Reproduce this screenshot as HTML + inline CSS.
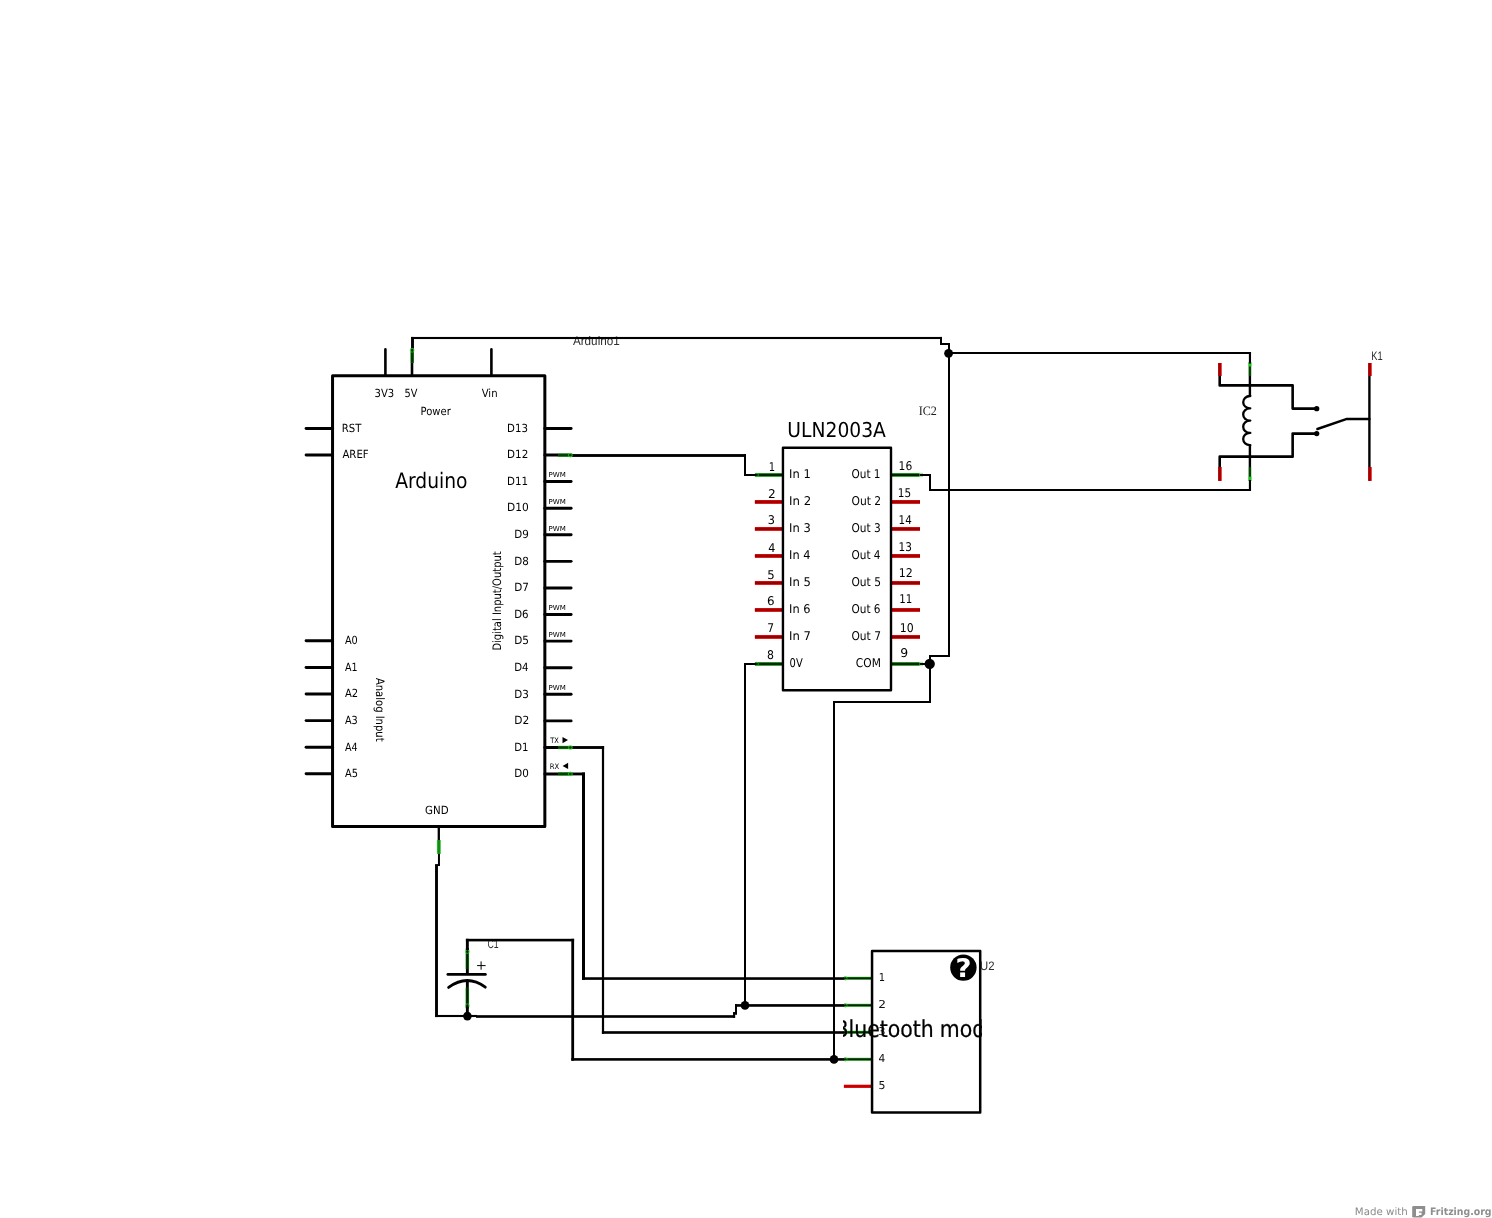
<!DOCTYPE html>
<html lang="en"><head><meta charset="utf-8"><title>Fritzing schematic</title>
<style>
html,body{margin:0;padding:0;background:#fff;width:1492px;height:1218px;overflow:hidden}
svg{display:block;position:absolute;left:0;top:0;will-change:transform}
text{white-space:pre;text-rendering:geometricPrecision}
</style></head><body>
<svg width="1492" height="1218" viewBox="0 0 1492 1218">
<text transform="matrix(1.1710 0 0 1.2500 572.90 345.00)" font-size="10" font-family='"Liberation Sans","DejaVu Sans",sans-serif' fill="#2e2e2e">Arduino1</text>
<text transform="matrix(0.8733 0 0 1.2209 487.39 948.00)" font-size="10" font-family='"Liberation Sans","DejaVu Sans",sans-serif' fill="#2e2e2e">C1</text>
<line x1="385.40" y1="349.40" x2="385.40" y2="375.80" stroke="#000" stroke-width="2.6" stroke-linecap="round"/>
<line x1="412.00" y1="349.40" x2="412.00" y2="375.80" stroke="#000" stroke-width="2.6" stroke-linecap="round"/>
<line x1="491.40" y1="349.40" x2="491.40" y2="375.80" stroke="#000" stroke-width="2.6" stroke-linecap="round"/>
<line x1="306.10" y1="428.40" x2="332.55" y2="428.40" stroke="#000" stroke-width="2.95" stroke-linecap="round"/>
<line x1="306.10" y1="455.00" x2="332.55" y2="455.00" stroke="#000" stroke-width="2.95" stroke-linecap="round"/>
<line x1="306.10" y1="640.80" x2="332.55" y2="640.80" stroke="#000" stroke-width="2.95" stroke-linecap="round"/>
<line x1="306.10" y1="667.40" x2="332.55" y2="667.40" stroke="#000" stroke-width="2.95" stroke-linecap="round"/>
<line x1="306.10" y1="694.00" x2="332.55" y2="694.00" stroke="#000" stroke-width="2.95" stroke-linecap="round"/>
<line x1="306.10" y1="720.60" x2="332.55" y2="720.60" stroke="#000" stroke-width="2.95" stroke-linecap="round"/>
<line x1="306.10" y1="747.20" x2="332.55" y2="747.20" stroke="#000" stroke-width="2.95" stroke-linecap="round"/>
<line x1="306.10" y1="773.80" x2="332.55" y2="773.80" stroke="#000" stroke-width="2.95" stroke-linecap="round"/>
<line x1="544.85" y1="428.40" x2="571.10" y2="428.40" stroke="#000" stroke-width="2.95" stroke-linecap="round"/>
<line x1="544.85" y1="454.99" x2="571.10" y2="454.99" stroke="#000" stroke-width="2.95" stroke-linecap="round"/>
<line x1="544.85" y1="481.58" x2="571.10" y2="481.58" stroke="#000" stroke-width="2.95" stroke-linecap="round"/>
<line x1="544.85" y1="508.17" x2="571.10" y2="508.17" stroke="#000" stroke-width="2.95" stroke-linecap="round"/>
<line x1="544.85" y1="534.76" x2="571.10" y2="534.76" stroke="#000" stroke-width="2.95" stroke-linecap="round"/>
<line x1="544.85" y1="561.35" x2="571.10" y2="561.35" stroke="#000" stroke-width="2.95" stroke-linecap="round"/>
<line x1="544.85" y1="587.94" x2="571.10" y2="587.94" stroke="#000" stroke-width="2.95" stroke-linecap="round"/>
<line x1="544.85" y1="614.53" x2="571.10" y2="614.53" stroke="#000" stroke-width="2.95" stroke-linecap="round"/>
<line x1="544.85" y1="641.12" x2="571.10" y2="641.12" stroke="#000" stroke-width="2.95" stroke-linecap="round"/>
<line x1="544.85" y1="667.71" x2="571.10" y2="667.71" stroke="#000" stroke-width="2.95" stroke-linecap="round"/>
<line x1="544.85" y1="694.30" x2="571.10" y2="694.30" stroke="#000" stroke-width="2.95" stroke-linecap="round"/>
<line x1="544.85" y1="720.89" x2="571.10" y2="720.89" stroke="#000" stroke-width="2.95" stroke-linecap="round"/>
<line x1="544.85" y1="747.48" x2="571.10" y2="747.48" stroke="#000" stroke-width="2.95" stroke-linecap="round"/>
<line x1="544.85" y1="774.07" x2="571.10" y2="774.07" stroke="#000" stroke-width="2.95" stroke-linecap="round"/>
<line x1="438.80" y1="826.45" x2="438.80" y2="852.60" stroke="#000" stroke-width="2.3" stroke-linecap="round"/>
<rect x="332.55" y="375.8" width="212.30" height="450.65" fill="none" stroke="#000" stroke-width="3.0" stroke-linejoin="round"/>
<text transform="matrix(1.1154 0 0 1.1180 374.60 396.60)" font-size="10" font-family='"DejaVu Sans Condensed","DejaVu Sans","Liberation Sans",sans-serif' fill="#000" font-stretch="condensed">3V3</text>
<text transform="matrix(1.0857 0 0 1.1180 404.47 396.60)" font-size="10" font-family='"DejaVu Sans Condensed","DejaVu Sans","Liberation Sans",sans-serif' fill="#000" font-stretch="condensed">5V</text>
<text transform="matrix(1.1241 0 0 1.1180 481.70 396.60)" font-size="10" font-family='"DejaVu Sans Condensed","DejaVu Sans","Liberation Sans",sans-serif' fill="#000" font-stretch="condensed">Vin</text>
<text transform="matrix(1.1121 0 0 1.1180 420.53 415.00)" font-size="10" font-family='"DejaVu Sans Condensed","DejaVu Sans","Liberation Sans",sans-serif' fill="#000" font-stretch="condensed">Power</text>
<text transform="matrix(1.1246 0 0 1.1180 341.82 431.80)" font-size="10" font-family='"DejaVu Sans Condensed","DejaVu Sans","Liberation Sans",sans-serif' fill="#000" font-stretch="condensed">RST</text>
<text transform="matrix(1.1285 0 0 1.1180 342.40 458.30)" font-size="10" font-family='"DejaVu Sans Condensed","DejaVu Sans","Liberation Sans",sans-serif' fill="#000" font-stretch="condensed">AREF</text>
<text transform="matrix(2.0785 0 0 2.1399 395.20 487.60)" font-size="10" font-family='"DejaVu Sans Condensed","DejaVu Sans","Liberation Sans",sans-serif' fill="#000" font-stretch="condensed">Arduino</text>
<text transform="matrix(1.1335 0 0 1.1180 507.11 431.70)" font-size="10" font-family='"DejaVu Sans Condensed","DejaVu Sans","Liberation Sans",sans-serif' fill="#000" font-stretch="condensed">D13</text>
<text transform="matrix(1.1547 0 0 1.1180 507.10 458.29)" font-size="10" font-family='"DejaVu Sans Condensed","DejaVu Sans","Liberation Sans",sans-serif' fill="#000" font-stretch="condensed">D12</text>
<text transform="matrix(1.1440 0 0 1.1180 507.11 484.88)" font-size="10" font-family='"DejaVu Sans Condensed","DejaVu Sans","Liberation Sans",sans-serif' fill="#000" font-stretch="condensed">D11</text>
<text transform="matrix(1.1805 0 0 1.1180 507.08 511.47)" font-size="10" font-family='"DejaVu Sans Condensed","DejaVu Sans","Liberation Sans",sans-serif' fill="#000" font-stretch="condensed">D10</text>
<text transform="matrix(1.1501 0 0 1.1180 514.20 538.06)" font-size="10" font-family='"DejaVu Sans Condensed","DejaVu Sans","Liberation Sans",sans-serif' fill="#000" font-stretch="condensed">D9</text>
<text transform="matrix(1.1501 0 0 1.1180 514.20 564.65)" font-size="10" font-family='"DejaVu Sans Condensed","DejaVu Sans","Liberation Sans",sans-serif' fill="#000" font-stretch="condensed">D8</text>
<text transform="matrix(1.1662 0 0 1.1180 514.19 591.24)" font-size="10" font-family='"DejaVu Sans Condensed","DejaVu Sans","Liberation Sans",sans-serif' fill="#000" font-stretch="condensed">D7</text>
<text transform="matrix(1.1344 0 0 1.1180 514.21 617.83)" font-size="10" font-family='"DejaVu Sans Condensed","DejaVu Sans","Liberation Sans",sans-serif' fill="#000" font-stretch="condensed">D6</text>
<text transform="matrix(1.1662 0 0 1.1180 514.19 644.42)" font-size="10" font-family='"DejaVu Sans Condensed","DejaVu Sans","Liberation Sans",sans-serif' fill="#000" font-stretch="condensed">D5</text>
<text transform="matrix(1.1344 0 0 1.1180 514.21 671.01)" font-size="10" font-family='"DejaVu Sans Condensed","DejaVu Sans","Liberation Sans",sans-serif' fill="#000" font-stretch="condensed">D4</text>
<text transform="matrix(1.1501 0 0 1.1180 514.20 697.60)" font-size="10" font-family='"DejaVu Sans Condensed","DejaVu Sans","Liberation Sans",sans-serif' fill="#000" font-stretch="condensed">D3</text>
<text transform="matrix(1.1828 0 0 1.1180 514.18 724.19)" font-size="10" font-family='"DejaVu Sans Condensed","DejaVu Sans","Liberation Sans",sans-serif' fill="#000" font-stretch="condensed">D2</text>
<text transform="matrix(1.1258 0 0 1.1180 514.22 750.78)" font-size="10" font-family='"DejaVu Sans Condensed","DejaVu Sans","Liberation Sans",sans-serif' fill="#000" font-stretch="condensed">D1</text>
<text transform="matrix(1.1501 0 0 1.1180 514.20 777.37)" font-size="10" font-family='"DejaVu Sans Condensed","DejaVu Sans","Liberation Sans",sans-serif' fill="#000" font-stretch="condensed">D0</text>
<text transform="matrix(1.0788 0 0 1.1180 344.90 644.20)" font-size="10" font-family='"DejaVu Sans Condensed","DejaVu Sans","Liberation Sans",sans-serif' fill="#000" font-stretch="condensed">A0</text>
<text transform="matrix(1.0581 0 0 1.1180 344.90 670.80)" font-size="10" font-family='"DejaVu Sans Condensed","DejaVu Sans","Liberation Sans",sans-serif' fill="#000" font-stretch="condensed">A1</text>
<text transform="matrix(1.1095 0 0 1.1180 344.90 697.40)" font-size="10" font-family='"DejaVu Sans Condensed","DejaVu Sans","Liberation Sans",sans-serif' fill="#000" font-stretch="condensed">A2</text>
<text transform="matrix(1.0788 0 0 1.1180 344.90 724.00)" font-size="10" font-family='"DejaVu Sans Condensed","DejaVu Sans","Liberation Sans",sans-serif' fill="#000" font-stretch="condensed">A3</text>
<text transform="matrix(1.0641 0 0 1.1180 344.90 750.60)" font-size="10" font-family='"DejaVu Sans Condensed","DejaVu Sans","Liberation Sans",sans-serif' fill="#000" font-stretch="condensed">A4</text>
<text transform="matrix(1.0939 0 0 1.1180 344.90 777.20)" font-size="10" font-family='"DejaVu Sans Condensed","DejaVu Sans","Liberation Sans",sans-serif' fill="#000" font-stretch="condensed">A5</text>
<text transform="matrix(1.1406 0 0 1.1180 425.07 814.00)" font-size="10" font-family='"DejaVu Sans Condensed","DejaVu Sans","Liberation Sans",sans-serif' fill="#000" font-stretch="condensed">GND</text>
<text transform="matrix(0.7068 0 0 0.6722 548.44 477.38)" font-size="10" font-family='"DejaVu Sans","Liberation Sans",sans-serif' fill="#000">PWM</text>
<text transform="matrix(0.7068 0 0 0.6722 548.44 503.97)" font-size="10" font-family='"DejaVu Sans","Liberation Sans",sans-serif' fill="#000">PWM</text>
<text transform="matrix(0.7068 0 0 0.6722 548.44 530.56)" font-size="10" font-family='"DejaVu Sans","Liberation Sans",sans-serif' fill="#000">PWM</text>
<text transform="matrix(0.7068 0 0 0.6722 548.44 610.33)" font-size="10" font-family='"DejaVu Sans","Liberation Sans",sans-serif' fill="#000">PWM</text>
<text transform="matrix(0.7068 0 0 0.6722 548.44 636.92)" font-size="10" font-family='"DejaVu Sans","Liberation Sans",sans-serif' fill="#000">PWM</text>
<text transform="matrix(0.7068 0 0 0.6722 548.44 690.10)" font-size="10" font-family='"DejaVu Sans","Liberation Sans",sans-serif' fill="#000">PWM</text>
<text transform="matrix(0.6627 0 0 0.7545 550.20 742.90)" font-size="10" font-family='"DejaVu Sans","Liberation Sans",sans-serif' fill="#000">TX</text>
<text transform="matrix(0.6840 0 0 0.7545 549.76 768.50)" font-size="10" font-family='"DejaVu Sans","Liberation Sans",sans-serif' fill="#000">RX</text>
<polygon points="562.5,736.9 562.5,743.3 568.0,740.1" fill="#000"/>
<polygon points="568.1,762.7 568.1,769.1 562.6,765.9" fill="#000"/>
<text transform="matrix(0 -1.1082 1.1660 0 500.70 650.62)" font-size="10" font-family='"DejaVu Sans Condensed","DejaVu Sans","Liberation Sans",sans-serif' fill="#000" font-stretch="condensed">Digital Input/Output</text>
<text transform="matrix(0 1.1129 -1.1660 0 376.00 677.90)" font-size="10" font-family='"DejaVu Sans Condensed","DejaVu Sans","Liberation Sans",sans-serif' fill="#000" font-stretch="condensed">Analog Input</text>
<rect x="754.90" y="473.05" width="28.05" height="3.80" fill="#2dbd2d"/>
<rect x="754.90" y="473.70" width="28.05" height="2.50" fill="#002400"/>
<circle cx="756.7" cy="474.95" r="1.7" fill="none" stroke="#2dbd2d" stroke-width="0.8" opacity="0.9"/>
<rect x="891.00" y="473.05" width="28.30" height="3.80" fill="#2dbd2d"/>
<rect x="891.00" y="473.70" width="28.30" height="2.50" fill="#002400"/>
<rect x="919.30" y="473.95" width="3.20" height="2.00" fill="#000"/>
<rect x="919.3" y="473.15" width="3.2" height="3.6" fill="none" stroke="#2dbd2d" stroke-width="0.6" opacity="0.7"/>
<rect x="754.90" y="500.05" width="28.05" height="3.80" fill="#f40000"/>
<rect x="754.90" y="500.70" width="28.05" height="2.50" fill="#960000"/>
<rect x="891.00" y="500.05" width="29.00" height="3.80" fill="#f40000"/>
<rect x="891.00" y="500.70" width="29.00" height="2.50" fill="#960000"/>
<rect x="754.90" y="527.05" width="28.05" height="3.80" fill="#f40000"/>
<rect x="754.90" y="527.70" width="28.05" height="2.50" fill="#960000"/>
<rect x="891.00" y="527.05" width="29.00" height="3.80" fill="#f40000"/>
<rect x="891.00" y="527.70" width="29.00" height="2.50" fill="#960000"/>
<rect x="754.90" y="554.05" width="28.05" height="3.80" fill="#f40000"/>
<rect x="754.90" y="554.70" width="28.05" height="2.50" fill="#960000"/>
<rect x="891.00" y="554.05" width="29.00" height="3.80" fill="#f40000"/>
<rect x="891.00" y="554.70" width="29.00" height="2.50" fill="#960000"/>
<rect x="754.90" y="581.05" width="28.05" height="3.80" fill="#f40000"/>
<rect x="754.90" y="581.70" width="28.05" height="2.50" fill="#960000"/>
<rect x="891.00" y="581.05" width="29.00" height="3.80" fill="#f40000"/>
<rect x="891.00" y="581.70" width="29.00" height="2.50" fill="#960000"/>
<rect x="754.90" y="608.05" width="28.05" height="3.80" fill="#f40000"/>
<rect x="754.90" y="608.70" width="28.05" height="2.50" fill="#960000"/>
<rect x="891.00" y="608.05" width="29.00" height="3.80" fill="#f40000"/>
<rect x="891.00" y="608.70" width="29.00" height="2.50" fill="#960000"/>
<rect x="754.90" y="635.05" width="28.05" height="3.80" fill="#f40000"/>
<rect x="754.90" y="635.70" width="28.05" height="2.50" fill="#960000"/>
<rect x="891.00" y="635.05" width="29.00" height="3.80" fill="#f40000"/>
<rect x="891.00" y="635.70" width="29.00" height="2.50" fill="#960000"/>
<rect x="754.90" y="662.05" width="28.05" height="3.80" fill="#2dbd2d"/>
<rect x="754.90" y="662.70" width="28.05" height="2.50" fill="#002400"/>
<circle cx="756.7" cy="663.95" r="1.7" fill="none" stroke="#2dbd2d" stroke-width="0.8" opacity="0.9"/>
<rect x="891.00" y="662.05" width="28.30" height="3.80" fill="#2dbd2d"/>
<rect x="891.00" y="662.70" width="28.30" height="2.50" fill="#002400"/>
<rect x="919.30" y="662.95" width="3.20" height="2.00" fill="#000"/>
<rect x="919.3" y="662.15" width="3.2" height="3.6" fill="none" stroke="#2dbd2d" stroke-width="0.6" opacity="0.7"/>
<rect x="782.95" y="447.75" width="108.05" height="242.55" fill="none" stroke="#000" stroke-width="2.4" stroke-linejoin="round"/>
<text transform="matrix(1.1077 0 0 1.2071 768.76 470.75)" font-size="10" font-family='"DejaVu Sans Condensed","DejaVu Sans","Liberation Sans",sans-serif' fill="#000" font-stretch="condensed">1</text>
<text transform="matrix(1.3511 0 0 1.2071 768.06 497.85)" font-size="10" font-family='"DejaVu Sans Condensed","DejaVu Sans","Liberation Sans",sans-serif' fill="#000" font-stretch="condensed">2</text>
<text transform="matrix(1.2579 0 0 1.2071 767.81 523.80)" font-size="10" font-family='"DejaVu Sans Condensed","DejaVu Sans","Liberation Sans",sans-serif' fill="#000" font-stretch="condensed">3</text>
<text transform="matrix(1.2400 0 0 1.2071 768.21 551.50)" font-size="10" font-family='"DejaVu Sans Condensed","DejaVu Sans","Liberation Sans",sans-serif' fill="#000" font-stretch="condensed">4</text>
<text transform="matrix(1.3029 0 0 1.2071 767.29 578.50)" font-size="10" font-family='"DejaVu Sans Condensed","DejaVu Sans","Liberation Sans",sans-serif' fill="#000" font-stretch="condensed">5</text>
<text transform="matrix(1.3227 0 0 1.2071 767.07 604.80)" font-size="10" font-family='"DejaVu Sans Condensed","DejaVu Sans","Liberation Sans",sans-serif' fill="#000" font-stretch="condensed">6</text>
<text transform="matrix(1.1886 0 0 1.2071 767.16 632.20)" font-size="10" font-family='"DejaVu Sans Condensed","DejaVu Sans","Liberation Sans",sans-serif' fill="#000" font-stretch="condensed">7</text>
<text transform="matrix(1.2160 0 0 1.2071 767.03 659.00)" font-size="10" font-family='"DejaVu Sans Condensed","DejaVu Sans","Liberation Sans",sans-serif' fill="#000" font-stretch="condensed">8</text>
<text transform="matrix(1.1884 0 0 1.2071 898.59 469.95)" font-size="10" font-family='"DejaVu Sans Condensed","DejaVu Sans","Liberation Sans",sans-serif' fill="#000" font-stretch="condensed">16</text>
<text transform="matrix(1.1650 0 0 1.2071 897.81 496.90)" font-size="10" font-family='"DejaVu Sans Condensed","DejaVu Sans","Liberation Sans",sans-serif' fill="#000" font-stretch="condensed">15</text>
<text transform="matrix(1.1488 0 0 1.2071 898.62 523.95)" font-size="10" font-family='"DejaVu Sans Condensed","DejaVu Sans","Liberation Sans",sans-serif' fill="#000" font-stretch="condensed">14</text>
<text transform="matrix(1.1668 0 0 1.2071 898.61 551.05)" font-size="10" font-family='"DejaVu Sans Condensed","DejaVu Sans","Liberation Sans",sans-serif' fill="#000" font-stretch="condensed">13</text>
<text transform="matrix(1.2255 0 0 1.2071 898.75 576.95)" font-size="10" font-family='"DejaVu Sans Condensed","DejaVu Sans","Liberation Sans",sans-serif' fill="#000" font-stretch="condensed">12</text>
<text transform="matrix(1.1344 0 0 1.2071 899.34 602.90)" font-size="10" font-family='"DejaVu Sans Condensed","DejaVu Sans","Liberation Sans",sans-serif' fill="#000" font-stretch="condensed">11</text>
<text transform="matrix(1.2171 0 0 1.2071 899.76 631.80)" font-size="10" font-family='"DejaVu Sans Condensed","DejaVu Sans","Liberation Sans",sans-serif' fill="#000" font-stretch="condensed">10</text>
<text transform="matrix(1.3867 0 0 1.2071 900.25 657.00)" font-size="10" font-family='"DejaVu Sans Condensed","DejaVu Sans","Liberation Sans",sans-serif' fill="#000" font-stretch="condensed">9</text>
<text transform="matrix(1.2768 0 0 1.2071 789.10 477.80)" font-size="10" font-family='"DejaVu Sans Condensed","DejaVu Sans","Liberation Sans",sans-serif' fill="#000" font-stretch="condensed">In 1</text>
<text transform="matrix(1.1690 0 0 1.2071 851.45 477.80)" font-size="10" font-family='"DejaVu Sans Condensed","DejaVu Sans","Liberation Sans",sans-serif' fill="#000" font-stretch="condensed">Out 1</text>
<text transform="matrix(1.3029 0 0 1.2071 789.08 504.80)" font-size="10" font-family='"DejaVu Sans Condensed","DejaVu Sans","Liberation Sans",sans-serif' fill="#000" font-stretch="condensed">In 2</text>
<text transform="matrix(1.1916 0 0 1.2071 851.44 504.80)" font-size="10" font-family='"DejaVu Sans Condensed","DejaVu Sans","Liberation Sans",sans-serif' fill="#000" font-stretch="condensed">Out 2</text>
<text transform="matrix(1.2768 0 0 1.2071 789.10 531.80)" font-size="10" font-family='"DejaVu Sans Condensed","DejaVu Sans","Liberation Sans",sans-serif' fill="#000" font-stretch="condensed">In 3</text>
<text transform="matrix(1.1760 0 0 1.2071 851.45 531.80)" font-size="10" font-family='"DejaVu Sans Condensed","DejaVu Sans","Liberation Sans",sans-serif' fill="#000" font-stretch="condensed">Out 3</text>
<text transform="matrix(1.2641 0 0 1.2071 789.11 558.80)" font-size="10" font-family='"DejaVu Sans Condensed","DejaVu Sans","Liberation Sans",sans-serif' fill="#000" font-stretch="condensed">In 4</text>
<text transform="matrix(1.1683 0 0 1.2071 851.45 558.80)" font-size="10" font-family='"DejaVu Sans Condensed","DejaVu Sans","Liberation Sans",sans-serif' fill="#000" font-stretch="condensed">Out 4</text>
<text transform="matrix(1.2897 0 0 1.2071 789.09 585.80)" font-size="10" font-family='"DejaVu Sans Condensed","DejaVu Sans","Liberation Sans",sans-serif' fill="#000" font-stretch="condensed">In 5</text>
<text transform="matrix(1.1837 0 0 1.2071 851.45 585.80)" font-size="10" font-family='"DejaVu Sans Condensed","DejaVu Sans","Liberation Sans",sans-serif' fill="#000" font-stretch="condensed">Out 5</text>
<text transform="matrix(1.2641 0 0 1.2071 789.11 612.80)" font-size="10" font-family='"DejaVu Sans Condensed","DejaVu Sans","Liberation Sans",sans-serif' fill="#000" font-stretch="condensed">In 6</text>
<text transform="matrix(1.1683 0 0 1.2071 851.45 612.80)" font-size="10" font-family='"DejaVu Sans Condensed","DejaVu Sans","Liberation Sans",sans-serif' fill="#000" font-stretch="condensed">Out 6</text>
<text transform="matrix(1.2897 0 0 1.2071 789.09 639.80)" font-size="10" font-family='"DejaVu Sans Condensed","DejaVu Sans","Liberation Sans",sans-serif' fill="#000" font-stretch="condensed">In 7</text>
<text transform="matrix(1.1837 0 0 1.2071 851.45 639.80)" font-size="10" font-family='"DejaVu Sans Condensed","DejaVu Sans","Liberation Sans",sans-serif' fill="#000" font-stretch="condensed">Out 7</text>
<text transform="matrix(1.1015 0 0 1.2071 789.58 666.85)" font-size="10" font-family='"DejaVu Sans Condensed","DejaVu Sans","Liberation Sans",sans-serif' fill="#000" font-stretch="condensed">0V</text>
<text transform="matrix(1.1868 0 0 1.2071 855.84 666.85)" font-size="10" font-family='"DejaVu Sans Condensed","DejaVu Sans","Liberation Sans",sans-serif' fill="#000" font-stretch="condensed">COM</text>
<text transform="matrix(2.0805 0 0 2.0576 787.37 437.20)" font-size="10" font-family='"DejaVu Sans Condensed","DejaVu Sans","Liberation Sans",sans-serif' fill="#000" font-stretch="condensed">ULN2003A</text>
<text transform="matrix(1.2097 0 0 1.2840 918.72 414.90)" font-size="10" font-family='"Liberation Serif","DejaVu Serif",serif' fill="#1a1a1a">IC2</text>
<rect x="843.90" y="976.80" width="28.15" height="3.00" fill="#2dbd2d"/>
<rect x="843.90" y="977.35" width="28.15" height="1.90" fill="#002400"/>
<circle cx="845.4" cy="978.3" r="1.7" fill="none" stroke="#2dbd2d" stroke-width="0.8" opacity="0.9"/>
<rect x="843.90" y="1003.80" width="28.15" height="3.00" fill="#2dbd2d"/>
<rect x="843.90" y="1004.35" width="28.15" height="1.90" fill="#002400"/>
<circle cx="845.4" cy="1005.3" r="1.7" fill="none" stroke="#2dbd2d" stroke-width="0.8" opacity="0.9"/>
<rect x="843.90" y="1030.80" width="28.15" height="3.00" fill="#2dbd2d"/>
<rect x="843.90" y="1031.35" width="28.15" height="1.90" fill="#002400"/>
<circle cx="845.4" cy="1032.3" r="1.7" fill="none" stroke="#2dbd2d" stroke-width="0.8" opacity="0.9"/>
<rect x="843.90" y="1057.80" width="28.15" height="3.00" fill="#2dbd2d"/>
<rect x="843.90" y="1058.35" width="28.15" height="1.90" fill="#002400"/>
<circle cx="845.4" cy="1059.3" r="1.7" fill="none" stroke="#2dbd2d" stroke-width="0.8" opacity="0.9"/>
<rect x="843.90" y="1084.70" width="28.15" height="3.20" fill="#e00000"/>
<rect x="843.90" y="1085.40" width="28.15" height="1.80" fill="#c00000"/>
<rect x="872.05" y="950.95" width="108.15" height="161.65" fill="none" stroke="#000" stroke-width="2.5" stroke-linejoin="round"/>
<text transform="matrix(1.1077 0 0 1.0837 878.76 980.75)" font-size="10" font-family='"DejaVu Sans Condensed","DejaVu Sans","Liberation Sans",sans-serif' fill="#111" font-stretch="condensed">1</text>
<text transform="matrix(1.3511 0 0 1.0837 878.36 1007.75)" font-size="10" font-family='"DejaVu Sans Condensed","DejaVu Sans","Liberation Sans",sans-serif' fill="#111" font-stretch="condensed">2</text>
<text transform="matrix(1.2800 0 0 1.0837 878.30 1034.75)" font-size="10" font-family='"DejaVu Sans Condensed","DejaVu Sans","Liberation Sans",sans-serif' fill="#111" font-stretch="condensed">3</text>
<text transform="matrix(1.1800 0 0 1.0837 878.53 1061.75)" font-size="10" font-family='"DejaVu Sans Condensed","DejaVu Sans","Liberation Sans",sans-serif' fill="#111" font-stretch="condensed">4</text>
<text transform="matrix(1.2114 0 0 1.0837 878.54 1088.75)" font-size="10" font-family='"DejaVu Sans Condensed","DejaVu Sans","Liberation Sans",sans-serif' fill="#111" font-stretch="condensed">5</text>
<circle cx="963.4" cy="967.6" r="13.2" fill="#000"/>
<text transform="matrix(2.7586 0 0 2.5514 955.48 977.00)" font-size="10" font-family='"DejaVu Sans","Liberation Sans",sans-serif' fill="#fff" font-weight="bold">?</text>
<text transform="matrix(1.1316 0 0 1.2209 980.09 969.60)" font-size="10" font-family='"Liberation Sans","DejaVu Sans",sans-serif' fill="#2e2e2e">U2</text>
<polyline points="1219.70,376.00 1219.70,385.40 1292.65,385.40 1292.65,408.60 1316.50,408.60" fill="none" stroke="#000" stroke-width="2.6" stroke-linejoin="round" stroke-linecap="butt"/>
<polyline points="1219.70,467.00 1219.70,456.65 1292.65,456.65 1292.65,433.60 1316.50,433.60" fill="none" stroke="#000" stroke-width="2.6" stroke-linejoin="round" stroke-linecap="butt"/>
<line x1="1369.40" y1="376.00" x2="1369.40" y2="467.00" stroke="#000" stroke-width="2.4" stroke-linecap="butt"/>
<line x1="1249.90" y1="362.50" x2="1249.90" y2="396.00" stroke="#000" stroke-width="2.4" stroke-linecap="butt"/>
<line x1="1249.90" y1="445.20" x2="1249.90" y2="481.00" stroke="#000" stroke-width="2.4" stroke-linecap="butt"/>
<path d="M1250.3,396.0 H1249.9 A6.7,6.15 0 0 0 1249.9,408.30 H1250.3 H1249.9 A6.7,6.15 0 0 0 1249.9,420.60 H1250.3 H1249.9 A6.7,6.15 0 0 0 1249.9,432.90 H1250.3 H1249.9 A6.7,6.15 0 0 0 1249.9,445.20 H1250.3 " fill="none" stroke="#000" stroke-width="2.3" stroke-linecap="round" stroke-linejoin="round"/>
<rect x="1218.05" y="363.00" width="3.70" height="13.00" fill="#e01414"/>
<rect x="1218.45" y="363.00" width="2.40" height="13.00" fill="#9e0000"/>
<rect x="1218.05" y="467.00" width="3.70" height="13.90" fill="#e01414"/>
<rect x="1218.45" y="467.00" width="2.40" height="13.90" fill="#9e0000"/>
<rect x="1368.05" y="363.00" width="3.70" height="13.00" fill="#e01414"/>
<rect x="1368.45" y="363.00" width="2.40" height="13.00" fill="#9e0000"/>
<rect x="1368.05" y="467.00" width="3.70" height="13.90" fill="#e01414"/>
<rect x="1368.45" y="467.00" width="2.40" height="13.90" fill="#9e0000"/>
<rect x="1248.25" y="362.50" width="3.30" height="13.50" fill="#18c818" opacity="0.33"/>
<rect x="1248.20" y="362.30" width="3.60" height="4.20" fill="#3cf03c" opacity="0.7"/>
<rect x="1248.25" y="467.00" width="3.30" height="13.80" fill="#18c818" opacity="0.33"/>
<rect x="1248.20" y="476.70" width="3.60" height="4.20" fill="#3cf03c" opacity="0.7"/>
<circle cx="1316.7" cy="408.7" r="2.65" fill="#000"/>
<circle cx="1316.7" cy="433.6" r="2.65" fill="#000"/>
<polyline points="1317.40,429.00 1346.20,419.05 1369.40,419.05" fill="none" stroke="#000" stroke-width="2.4" stroke-linejoin="round" stroke-linecap="round"/>
<text transform="matrix(0.9326 0 0 1.2209 1371.27 359.90)" font-size="10" font-family='"Liberation Sans","DejaVu Sans",sans-serif' fill="#2e2e2e">K1</text>
<line x1="467.35" y1="948.00" x2="467.35" y2="974.40" stroke="#000" stroke-width="2.9" stroke-linecap="butt"/>
<line x1="467.35" y1="981.00" x2="467.35" y2="1008.50" stroke="#000" stroke-width="2.9" stroke-linecap="butt"/>
<rect x="465.60" y="949.50" width="3.50" height="19.50" fill="#27b027" opacity="0.9"/>
<rect x="466.15" y="949.50" width="2.40" height="19.50" fill="#002200"/>
<circle cx="467.35" cy="951.6" r="1.9" fill="none" stroke="#2fcf2f" stroke-width="0.8" opacity="0.85"/>
<rect x="465.60" y="987.80" width="3.50" height="20.00" fill="#27b027" opacity="0.9"/>
<rect x="466.15" y="987.80" width="2.40" height="20.00" fill="#002200"/>
<circle cx="467.35" cy="1005.7" r="1.9" fill="none" stroke="#2fcf2f" stroke-width="0.8" opacity="0.85"/>
<line x1="447.90" y1="974.40" x2="485.40" y2="974.40" stroke="#000" stroke-width="2.8" stroke-linecap="round"/>
<path d="M448.6,987.4 Q467.2,973.7 485.3,987.2" fill="none" stroke="#000" stroke-width="2.8" stroke-linecap="round"/>
<line x1="477.10" y1="965.60" x2="485.60" y2="965.60" stroke="#000" stroke-width="1.0" stroke-linecap="butt"/>
<line x1="481.10" y1="961.40" x2="481.10" y2="969.70" stroke="#000" stroke-width="1.0" stroke-linecap="butt"/>
<rect x="411.05" y="336.95" width="2.90" height="25.75" fill="#000"/>
<rect x="411.05" y="336.95" width="530.95" height="2.10" fill="#000"/>
<rect x="940.00" y="336.95" width="2.00" height="8.05" fill="#000"/>
<rect x="940.00" y="343.00" width="10.00" height="2.00" fill="#000"/>
<rect x="948.00" y="343.00" width="2.00" height="10.00" fill="#000"/>
<rect x="949.00" y="352.00" width="302.03" height="2.00" fill="#000"/>
<rect x="1248.88" y="352.00" width="2.15" height="11.50" fill="#000"/>
<rect x="948.00" y="353.00" width="2.00" height="304.00" fill="#000"/>
<rect x="929.00" y="655.00" width="21.00" height="2.00" fill="#000"/>
<rect x="929.00" y="655.00" width="2.00" height="9.00" fill="#000"/>
<rect x="922.00" y="663.00" width="8.00" height="2.00" fill="#000"/>
<rect x="929.00" y="664.00" width="2.00" height="39.00" fill="#000"/>
<rect x="833.00" y="701.00" width="98.00" height="2.00" fill="#000"/>
<rect x="833.00" y="701.00" width="2.00" height="358.40" fill="#000"/>
<rect x="571.30" y="1058.10" width="273.00" height="2.60" fill="#000"/>
<rect x="571.30" y="938.80" width="2.80" height="121.90" fill="#000"/>
<rect x="465.90" y="938.80" width="108.20" height="2.60" fill="#000"/>
<rect x="465.90" y="938.80" width="2.90" height="11.20" fill="#000"/>
<rect x="571.50" y="454.07" width="174.50" height="2.85" fill="#000"/>
<rect x="744.00" y="454.07" width="2.00" height="21.93" fill="#000"/>
<rect x="744.00" y="474.00" width="12.00" height="2.00" fill="#000"/>
<rect x="922.00" y="474.00" width="9.00" height="2.00" fill="#000"/>
<rect x="929.00" y="474.00" width="2.00" height="17.00" fill="#000"/>
<rect x="929.00" y="489.00" width="322.03" height="2.00" fill="#000"/>
<rect x="1248.88" y="480.00" width="2.15" height="11.00" fill="#000"/>
<rect x="744.00" y="663.00" width="12.00" height="2.00" fill="#000"/>
<rect x="744.00" y="663.00" width="2.00" height="342.45" fill="#000"/>
<rect x="745.00" y="1004.12" width="99.30" height="2.65" fill="#000"/>
<rect x="735.00" y="1004.12" width="10.00" height="2.65" fill="#000"/>
<rect x="735.00" y="1004.12" width="2.00" height="10.38" fill="#000"/>
<rect x="733.10" y="1012.10" width="3.90" height="2.40" fill="#000"/>
<rect x="733.10" y="1012.10" width="2.00" height="5.73" fill="#000"/>
<rect x="476.00" y="1015.17" width="259.10" height="2.65" fill="#000"/>
<rect x="435.05" y="1014.95" width="41.95" height="2.10" fill="#000"/>
<rect x="435.05" y="864.90" width="2.90" height="152.15" fill="#000"/>
<rect x="435.05" y="864.10" width="4.90" height="1.80" fill="#000"/>
<line x1="438.95" y1="853.00" x2="438.95" y2="865.90" stroke="#000" stroke-width="2.0" stroke-linecap="butt"/>
<line x1="467.35" y1="1006.50" x2="467.35" y2="1016.40" stroke="#000" stroke-width="2.9" stroke-linecap="butt"/>
<rect x="571.50" y="746.08" width="32.60" height="2.85" fill="#000"/>
<rect x="601.90" y="746.08" width="2.20" height="287.75" fill="#000"/>
<rect x="601.90" y="1031.17" width="242.40" height="2.65" fill="#000"/>
<rect x="571.50" y="772.53" width="13.50" height="2.85" fill="#000"/>
<rect x="582.00" y="772.53" width="3.00" height="207.32" fill="#000"/>
<rect x="582.00" y="977.25" width="262.30" height="2.60" fill="#000"/>
<rect x="410.50" y="348.30" width="3.40" height="14.40" fill="#27b027" opacity="0.9"/>
<rect x="411.05" y="348.30" width="2.30" height="14.40" fill="#003200"/>
<circle cx="412.2" cy="350.3" r="1.9" fill="none" stroke="#34d834" stroke-width="0.8" opacity="0.85"/>
<rect x="558.10" y="453.50" width="14.20" height="3.40" fill="#27b027" opacity="0.9"/>
<rect x="558.10" y="454.05" width="14.20" height="2.30" fill="#004000"/>
<circle cx="570.3" cy="455.2" r="1.9" fill="none" stroke="#34d834" stroke-width="0.8" opacity="0.85"/>
<rect x="558.10" y="745.80" width="14.20" height="3.40" fill="#27b027" opacity="0.9"/>
<rect x="558.10" y="746.35" width="14.20" height="2.30" fill="#004000"/>
<circle cx="570.3" cy="747.5" r="1.9" fill="none" stroke="#34d834" stroke-width="0.8" opacity="0.85"/>
<rect x="558.10" y="772.20" width="14.20" height="3.40" fill="#27b027" opacity="0.9"/>
<rect x="558.10" y="772.75" width="14.20" height="2.30" fill="#004000"/>
<circle cx="570.3" cy="773.9" r="1.9" fill="none" stroke="#34d834" stroke-width="0.8" opacity="0.85"/>
<rect x="436.90" y="840.00" width="3.90" height="14.00" fill="#10b010" opacity="0.8"/>
<circle cx="948.6" cy="353.3" r="4.4" fill="#000"/>
<circle cx="929.7" cy="663.9" r="5.15" fill="#000"/>
<circle cx="834.0" cy="1059.4" r="4.3" fill="#000"/>
<circle cx="745.0" cy="1005.4" r="4.3" fill="#000"/>
<circle cx="467.4" cy="1016.1" r="4.3" fill="#000"/>
<clipPath id="cb"><rect x="843.0" y="1010" width="139.1" height="40"/></clipPath>
<g clip-path="url(#cb)"><text transform="matrix(2.2740 0 0 2.3320 834.49 1036.6)" font-size="10" font-family='"DejaVu Sans Condensed","DejaVu Sans","Liberation Sans",sans-serif' font-stretch="condensed" fill="#000" stroke="#000" stroke-width="0.1" word-spacing="-0.251">Bluetooth mod</text></g>
<text transform="matrix(1.0240 0 0 1.0288 1354.84 1215.00)" font-size="10" font-family='"DejaVu Sans","Liberation Sans",sans-serif' fill="#8a8a8a">Made with</text>
<path d="M1413.6,1206.1 h11.6 v7.9 l-3.6,3.6 h-8 a1.4,1.4 0 0 1 -1.4,-1.4 v-8.7 a1.4,1.4 0 0 1 1.4,-1.4 z" fill="#8e8e8e"/>
<path d="M1416.0,1208.9 h6.3 v2.5 h-3.4 v1.3 h2.6 v2.4 h-2.6 v0.9 h-2.9 z" fill="#fff"/>
<text transform="matrix(0.9363 0 0 1.0151 1430.07 1215.00)" font-size="10" font-family='"DejaVu Sans","Liberation Sans",sans-serif' fill="#8e8e8e" font-weight="bold">Fritzing.org</text>
</svg>
</body></html>
